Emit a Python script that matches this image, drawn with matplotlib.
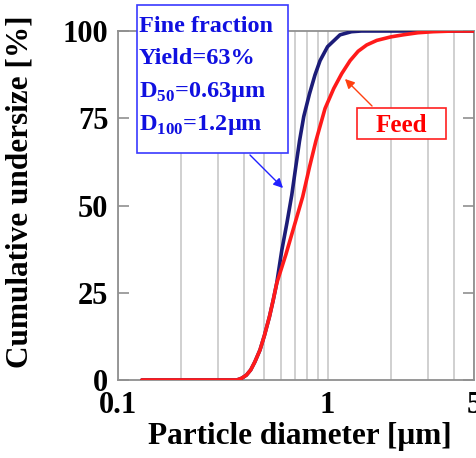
import matplotlib
matplotlib.use("Agg")
import matplotlib.pyplot as plt
from matplotlib.patches import Rectangle
from matplotlib.ticker import LogLocator, NullFormatter, FixedLocator, FixedFormatter

plt.rcParams['font.family'] = ['Liberation Serif', 'DejaVu Serif']
plt.rcParams['font.weight'] = 'bold'
plt.rcParams['mathtext.fontset'] = 'custom'
plt.rcParams['mathtext.rm'] = 'Liberation Serif:bold'
plt.rcParams['mathtext.bf'] = 'Liberation Serif:bold'

# cumulative undersize curves
fine_d = [0.13, 0.369, 0.389, 0.41, 0.43, 0.45, 0.476, 0.50, 0.528, 0.55, 0.572, 0.605,
          0.64, 0.675, 0.705, 0.735, 0.77, 0.82, 0.871, 0.921, 1.0, 1.147, 1.3, 1.45, 5.0]
fine_v = [0, 0, 0.5, 1.4, 2.9, 5.2, 8.6, 12.8, 18.1, 22.8, 27.7, 37.2,
          45, 53, 61, 68.5, 75.5, 82, 87.4, 91.5, 95.5, 98.9, 99.8, 100, 100]
feed_d = [0.13, 0.369, 0.389, 0.41, 0.43, 0.45, 0.476, 0.50, 0.528, 0.55, 0.572, 0.633,
          0.70, 0.761, 0.82, 0.88, 0.973, 1.07, 1.169, 1.281, 1.40, 1.538, 1.717, 2.0,
          2.294, 2.7, 3.19, 4.0, 5.0]
feed_v = [0, 0, 0.5, 1.4, 2.9, 5.2, 8.6, 12.8, 18.1, 22.8, 27.7, 36.0,
          45, 52.5, 61, 68.5, 77.8, 83.5, 87.8, 91.5, 94.2, 96.0, 97.3, 98.3,
          98.9, 99.5, 99.8, 100, 100]

y_ticks = [0, 25, 50, 75, 100]
x_ticks = [0.1, 1, 5]
x_labels = ['0.1', '1', '5']

W, H = 476, 458
fig = plt.figure(figsize=(W / 100, H / 100), dpi=100)
ax = fig.add_axes([118 / W, 1 - 380 / H, (474 - 118) / W, (380 - 31) / H])

ax.plot(fine_d, fine_v, color='#1c1c78', lw=2.6, zorder=4, solid_capstyle='round')
ax.plot(feed_d, feed_v, color='#ff1a1a', lw=2.6, zorder=5, solid_capstyle='round')

ax.set_xscale('log')
ax.set_xlim(0.1, 5)
ax.set_ylim(0, 100)
ax.xaxis.set_major_locator(FixedLocator(x_ticks))
ax.xaxis.set_major_formatter(FixedFormatter(x_labels))
ax.xaxis.set_minor_locator(LogLocator(base=10, subs=range(2, 10)))
ax.xaxis.set_minor_formatter(NullFormatter())
ax.grid(True, which='both', axis='x', color='#c8c8c8', lw=1.2)
ax.set_yticks(y_ticks)
ax.tick_params(axis='x', which='both', length=0, labelsize=22, pad=8)
ax.tick_params(axis='y', direction='in', length=8, width=1.2, color='#909090',
               labelsize=22, right=True, pad=7)
for s in ax.spines.values():
    s.set_color('#909090')
    s.set_linewidth(1.3)

ax.set_xlabel('Particle diameter [μm]', fontsize=22.5, fontweight='bold', va='center')
ax.xaxis.set_label_coords(0.511, -0.163)
ax.set_ylabel('Cumulative undersize [%]', fontsize=22.5, fontweight='bold', va='center')
ax.yaxis.set_label_coords(-0.275, 0.539)

# annotation boxes (figure pixel coords)
def fx(px):
    return px / W

def fy(py):
    return 1 - py / H

fig.patches.append(Rectangle((fx(137), fy(153)), fx(288) - fx(137), fy(5) - fy(153),
                             transform=fig.transFigure, fill=True, facecolor='white',
                             edgecolor='#3a3aff', lw=1.2, zorder=10))
lines = ['Fine fraction', 'Yield=63%', r'D$_{\mathregular{50}}$=0.63μm', r'D$_{\mathregular{100}}$=1.2μm']
for i, t in enumerate(lines):
    fig.text(fx(139), fy(26 + i * 33), t, color='#1010e0', fontsize=17.5, fontweight='bold',
             va='center', ha='left', zorder=11)
fig.patches.append(Rectangle((fx(357), fy(139)), fx(446) - fx(357), fy(108) - fy(139),
                             transform=fig.transFigure, fill=True, facecolor='white',
                             edgecolor='#ff2020', lw=1.2, zorder=10))
fig.text(fx(401), fy(125), 'Feed', color='#ff0000', fontsize=18, fontweight='bold',
         va='center', ha='center', zorder=11)

ax.annotate('', xy=(fx(285), fy(190)), xytext=(fx(248), fy(153)),
            xycoords='figure fraction', textcoords='figure fraction',
            arrowprops=dict(arrowstyle='-|>', color='#2020ff', lw=1.0, mutation_scale=14))
ax.annotate('', xy=(fx(343), fy(77)), xytext=(fx(374), fy(108)),
            xycoords='figure fraction', textcoords='figure fraction',
            arrowprops=dict(arrowstyle='-|>', color='#ff4010', lw=1.0, mutation_scale=14))

fig.savefig('out.png', dpi=100)
